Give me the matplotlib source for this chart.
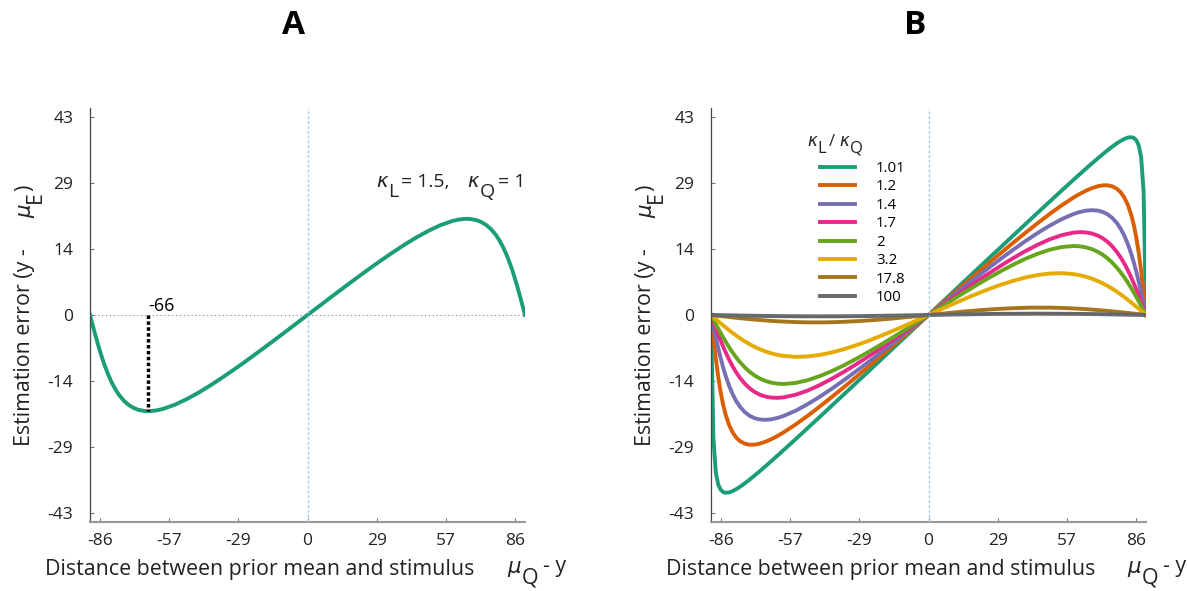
import numpy as np
import matplotlib.pyplot as plt

plt.rcParams['font.family'] = ['Open Sans', 'DejaVu Sans']

W, H = 1187, 591

# bias curves, degrees: x = mu_Q - y, value = y - mu_E
x_a = [-90, -89, -88, -87, -86, -85, -84, -82.5, -81, -79.5, -78, -76, -74, -72, -70, -67.5,
       -66, -65, -62.5, -60, -55, -50, -45, -40, -35, -30, -25, -20, -15, -10, -5, 0,
       5, 10, 15, 20, 25, 30, 35, 40, 45, 50, 55, 60, 62.5, 65, 66, 67.5, 70, 72, 74, 76,
       78, 79.5, 81, 82.5, 84, 85, 86, 87, 88, 89, 90]
err_a = [0, -1.99, -3.95, -5.84, -7.64, -9.31, -10.86, -12.93, -14.69, -16.16, -17.37, -18.63,
         -19.55, -20.19, -20.61, -20.86, -20.90, -20.89, -20.74, -20.45, -19.53, -18.29,
         -16.85, -15.24, -13.51, -11.71, -9.84, -7.92, -5.97, -3.99, -2.00, 0,
         2.00, 3.99, 5.97, 7.92, 9.84, 11.71, 13.51, 15.24, 16.85, 18.29, 19.53, 20.45,
         20.74, 20.89, 20.90, 20.86, 20.61, 20.19, 19.55, 18.63, 17.37, 16.16, 14.69,
         12.93, 10.86, 9.31, 7.64, 5.84, 3.95, 1.99, 0]
peak_x = -66
peak_y = -20.90

x_b = [-90, -89, -88, -87, -86, -85, -84, -82.5, -81, -79.5, -78, -76, -74, -72, -70, -67.5,
       -65, -62.5, -60, -55, -50, -45, -40, -35, -30, -25, -20, -15, -10, -5, 0,
       5, 10, 15, 20, 25, 30, 35, 40, 45, 50, 55, 60, 62.5, 65, 67.5, 70, 72, 74, 76,
       78, 79.5, 81, 82.5, 84, 85, 86, 87, 88, 89, 90]
ratios = ['1.01', '1.2', '1.4', '1.7', '2', '3.2', '17.8', '100']
err_101 = [0, -26.86, -34.26, -36.87, -37.99, -38.48, -38.65, -38.57, -38.27, -37.84, -37.34,
           -36.58, -35.77, -34.91, -34.03, -32.90, -31.74, -30.57, -29.39, -27.00, -24.58,
           -22.15, -19.70, -17.25, -14.79, -12.34, -9.87, -7.41, -4.94, -2.47, 0,
           2.47, 4.94, 7.41, 9.87, 12.34, 14.79, 17.25, 19.70, 22.15, 24.58, 27.00, 29.39,
           30.57, 31.74, 32.90, 34.03, 34.91, 35.77, 36.58, 37.34, 37.84, 38.27, 38.57,
           38.65, 38.48, 37.99, 36.87, 34.26, 26.86, 0]
err_12 = [0, -4.93, -9.51, -13.48, -16.78, -19.45, -21.57, -23.94, -25.57, -26.69, -27.42,
          -27.98, -28.20, -28.18, -27.99, -27.56, -26.98, -26.30, -25.53, -23.80, -21.91,
          -19.90, -17.82, -15.68, -13.50, -11.29, -9.05, -6.80, -4.54, -2.27, 0,
          2.27, 4.54, 6.80, 9.05, 11.29, 13.50, 15.68, 17.82, 19.90, 21.91, 23.80, 25.53,
          26.30, 26.98, 27.56, 27.99, 28.18, 28.20, 27.98, 27.42, 26.69, 25.57, 23.94,
          21.57, 19.45, 16.78, 13.48, 9.51, 4.93, 0]
err_14 = [0, -2.49, -4.92, -7.23, -9.38, -11.35, -13.12, -15.40, -17.27, -18.77, -19.95,
          -21.12, -21.92, -22.42, -22.70, -22.79, -22.67, -22.37, -21.95, -20.81, -19.38,
          -17.77, -16.02, -14.17, -12.25, -10.28, -8.26, -6.22, -4.16, -2.08, 0,
          2.08, 4.16, 6.22, 8.26, 10.28, 12.25, 14.17, 16.02, 17.77, 19.38, 20.81, 21.95,
          22.37, 22.67, 22.79, 22.70, 22.42, 21.92, 21.12, 19.95, 18.77, 17.27, 15.40,
          13.12, 11.35, 9.38, 7.23, 4.92, 2.49, 0]
err_17 = [0, -1.43, -2.84, -4.21, -5.55, -6.82, -8.03, -9.71, -11.21, -12.53, -13.67,
          -14.94, -15.94, -16.71, -17.27, -17.73, -17.96, -18.01, -17.91, -17.34, -16.42,
          -15.23, -13.86, -12.36, -10.74, -9.05, -7.30, -5.51, -3.69, -1.85, 0,
          1.85, 3.69, 5.51, 7.30, 9.05, 10.74, 12.36, 13.86, 15.23, 16.42, 17.34, 17.91,
          18.01, 17.96, 17.73, 17.27, 16.71, 15.94, 14.94, 13.67, 12.53, 11.21, 9.71,
          8.03, 6.82, 5.55, 4.21, 2.84, 1.43, 0]
err_2 = [0, -1.00, -1.99, -2.97, -3.92, -4.85, -5.75, -7.03, -8.21, -9.29, -10.26, -11.40,
         -12.35, -13.13, -13.76, -14.34, -14.72, -14.93, -15.00, -14.77, -14.17, -13.28,
         -12.19, -10.93, -9.55, -8.08, -6.54, -4.95, -3.32, -1.66, 0,
         1.66, 3.32, 4.95, 6.54, 8.08, 9.55, 10.93, 12.19, 13.28, 14.17, 14.77, 15.00,
         14.93, 14.72, 14.34, 13.76, 13.13, 12.35, 11.40, 10.26, 9.29, 8.21, 7.03, 5.75,
         4.85, 3.92, 2.97, 1.99, 1.00, 0]
err_32 = [0, -0.45, -0.91, -1.36, -1.80, -2.24, -2.67, -3.30, -3.91, -4.49, -5.04, -5.73,
          -6.35, -6.91, -7.40, -7.92, -8.34, -8.66, -8.89, -9.10, -9.01, -8.68, -8.14,
          -7.43, -6.59, -5.64, -4.60, -3.51, -2.36, -1.19, 0,
          1.19, 2.36, 3.51, 4.60, 5.64, 6.59, 7.43, 8.14, 8.68, 9.01, 9.10, 8.89, 8.66,
          8.34, 7.92, 7.40, 6.91, 6.35, 5.73, 5.04, 4.49, 3.91, 3.30, 2.67, 2.24, 1.80,
          1.36, 0.91, 0.45, 0]
err_178 = [0, -0.06, -0.12, -0.18, -0.24, -0.30, -0.35, -0.44, -0.53, -0.61, -0.69, -0.79,
           -0.90, -0.99, -1.08, -1.18, -1.28, -1.36, -1.43, -1.54, -1.60, -1.61, -1.57,
           -1.48, -1.35, -1.19, -0.99, -0.77, -0.52, -0.26, 0,
           0.26, 0.52, 0.77, 0.99, 1.19, 1.35, 1.48, 1.57, 1.61, 1.60, 1.54, 1.43, 1.36,
           1.28, 1.18, 1.08, 0.99, 0.90, 0.79, 0.69, 0.61, 0.53, 0.44, 0.35, 0.30, 0.24,
           0.18, 0.12, 0.06, 0]
err_100 = [0, -0.01, -0.02, -0.03, -0.04, -0.05, -0.06, -0.07, -0.09, -0.10, -0.12, -0.14,
           -0.15, -0.17, -0.19, -0.20, -0.22, -0.24, -0.25, -0.27, -0.28, -0.29, -0.28,
           -0.27, -0.25, -0.22, -0.18, -0.14, -0.10, -0.05, 0,
           0.05, 0.10, 0.14, 0.18, 0.22, 0.25, 0.27, 0.28, 0.29, 0.28, 0.27, 0.25, 0.24,
           0.22, 0.20, 0.19, 0.17, 0.15, 0.14, 0.12, 0.10, 0.09, 0.07, 0.06, 0.05, 0.04,
           0.03, 0.02, 0.01, 0]
curves_b = [err_101, err_12, err_14, err_17, err_2, err_32, err_178, err_100]
colors = ['#1b9e77', '#d95f02', '#7570b3', '#e7298a', '#66a61e', '#e6ab02', '#a6761d', '#666666']

# ticks are placed at round radian values, labelled in degrees
xtick_rad = [-1.5, -1, -0.5, 0, 0.5, 1, 1.5]
xtick_lab = ['-86', '-57', '-29', '0', '29', '57', '86']
ytick_rad = [-0.75, -0.5, -0.25, 0, 0.25, 0.5, 0.75]
ytick_lab = ['-43', '-29', '-14', '0', '14', '29', '43']

KAPPA = dict(family='DejaVu Sans', style='oblique')
LW = 2.8


def fx(px):
    return px / W


def fy(py):
    return 1 - py / H


def chain(ax, x, y, parts, size, rotation=0):
    # parts: (text, font kwargs, gap in pt, drop in pt); laid out one after another
    s, kw, _, drop = parts[0]
    if rotation == 0:
        prev = ax.text(x, y - drop / 72 * 100 / H, s, transform=ax.figure.transFigure,
                       ha='left', va='baseline', fontsize=size, color='#222222', **kw)
    else:
        prev = ax.text(x + drop / 72 * 100 / W, y, s, transform=ax.figure.transFigure,
                       rotation=90, ha='right', va='bottom', fontsize=size,
                       color='#222222', **kw)
    prev_drop = drop
    for s, kw, gap, drop in parts[1:]:
        if rotation == 0:
            prev = ax.annotate(s, xy=(1, 0), xycoords=prev, xytext=(gap, prev_drop - drop),
                               textcoords='offset points', ha='left', va='bottom',
                               fontsize=size, color='#222222', **kw)
        else:
            prev = ax.annotate(s, xy=(1, 1), xycoords=prev, xytext=(drop - prev_drop, gap),
                               textcoords='offset points', ha='right', va='bottom',
                               rotation=90, fontsize=size, color='#222222', **kw)
        prev_drop = drop
    return prev


def style_axes(ax):
    ax.set_xlim(-90, 90)
    ax.set_ylim(-45, 45)
    ax.spines['top'].set_visible(False)
    ax.spines['right'].set_visible(False)
    ax.spines['left'].set_color('#444444')
    ax.spines['left'].set_linewidth(0.9)
    ax.spines['bottom'].set_color('#9a9a9a')
    ax.spines['bottom'].set_linewidth(1.5)
    ax.set_xticks(np.degrees(xtick_rad))
    ax.set_xticklabels(xtick_lab)
    ax.set_yticks(np.degrees(ytick_rad))
    ax.set_yticklabels(ytick_lab)
    ax.tick_params(direction='in', length=3, width=0.8, color='#777777',
                   labelsize=12.5, labelcolor='#222222')
    ax.tick_params(axis='y', pad=12)
    ax.tick_params(axis='x', pad=8)
    ax.axvline(0, color='#a9cbe8', lw=1.0, ls=(0, (2, 1.5)), zorder=3)
    ax.axhline(0, color='#5f8ab5', lw=0.8, ls=(0, (1, 2.5)), zorder=3)


fig = plt.figure(figsize=(W / 100, H / 100), dpi=100)
axA = fig.add_axes([fx(90), fy(522), 435 / W, 414 / H])
axB = fig.add_axes([fx(711), fy(522), 435 / W, 414 / H])

for ax in (axA, axB):
    style_axes(ax)

# panel A: single ratio with the peak bias marked
axA.plot(x_a, err_a, color='#1b9e77', lw=LW, zorder=2)
axA.plot([peak_x, peak_x], [0, peak_y], color='black', lw=2.5, ls=(0, (1, 0.7)),
         dash_capstyle='butt', zorder=4)
axA.text(peak_x, 0, '%d' % peak_x, fontsize=13, ha='left', va='bottom')
chain(axA, fx(376), fy(187), [
    ('κ', KAPPA, 0, 0), ('L', {}, 0.5, 7), ('= 1.5,', {}, 2, 0),
    ('κ', KAPPA, 13, 0), ('Q', {}, 0.5, 7), ('= 1', {}, 2, 0)], 14)

# panel B: one curve per likelihood/prior concentration ratio
lines = []
for err, c, lab in zip(curves_b, colors, ratios):
    ln, = axB.plot(x_b, err, color=c, lw=LW, label=lab, zorder=2)
    lines.append(ln)
axB.legend(handles=lines, loc='upper left', bbox_to_anchor=(fx(820), fy(161)),
           bbox_transform=fig.transFigure, frameon=False, fontsize=10.8,
           handlelength=2.33, handletextpad=1.4, labelspacing=0.23,
           borderpad=0, borderaxespad=0)
chain(axB, fx(807), fy(146), [
    ('κ', KAPPA, 0, 0), ('L', {}, 0.5, 5), ('/', {}, 2, 0),
    ('κ', KAPPA, 3, 0), ('Q', {}, 0.5, 5)], 12)

for ax, left, mu_left, ylab_x, title_x, title in (
        (axA, 45, 507, 35, 293, 'A'), (axB, 666, 1127, 656, 915, 'B')):
    fig.text(fx(left), fy(575), 'Distance between prior mean and stimulus',
             fontsize=15.4, ha='left', va='baseline', color='#222222')
    chain(ax, fx(mu_left), fy(573), [
        ('μ', KAPPA, 0, 0), ('Q', {}, 0.5, 8), ('- y', {}, 4, 0)], 15.4)
    chain(ax, fx(ylab_x), fy(446), [
        ('Estimation error (y -', {}, 0, 0), ('μ', KAPPA, 22, 0),
        ('E', {}, 0.5, 8), (')', {}, 0.5, 0)], 15.4, rotation=90)
    fig.text(fx(title_x), fy(25), title, fontsize=24, fontweight='bold',
             ha='center', va='center')

fig.savefig('out.png', dpi=100)
